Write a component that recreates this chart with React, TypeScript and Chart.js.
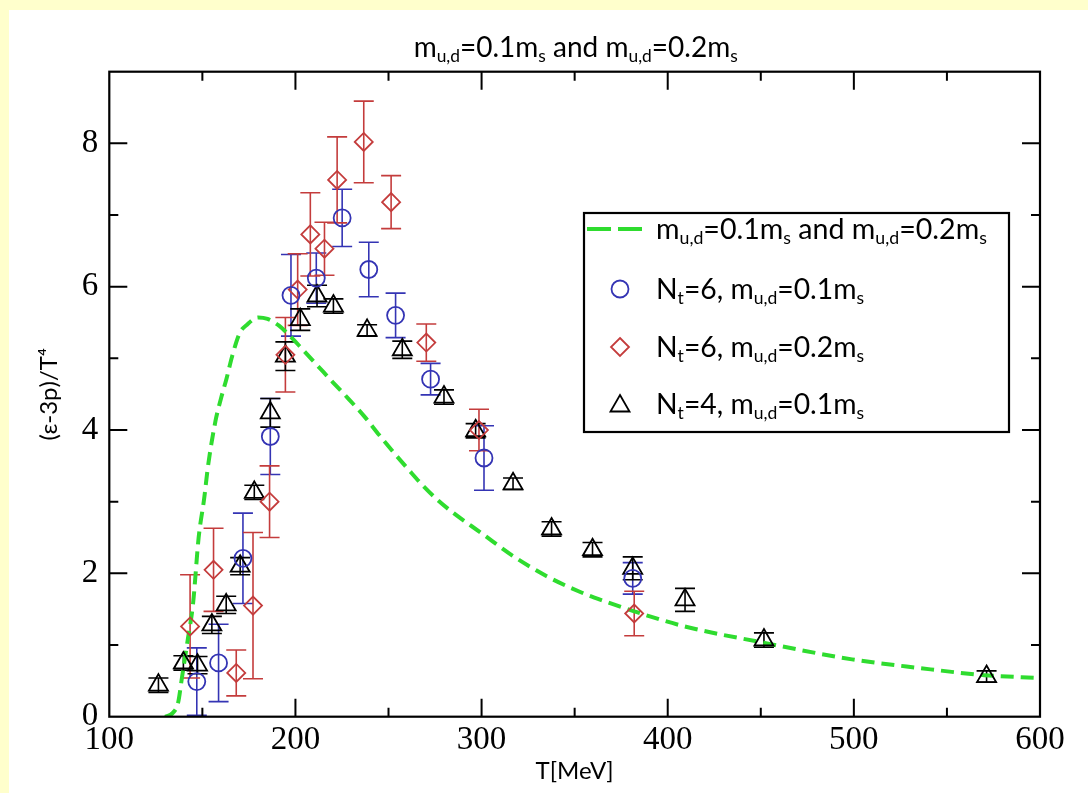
import React, { useEffect, useRef } from 'react';
import { Chart, registerables } from 'chart.js';

Chart.register(...registerables);

// ---- data ----
const CURVE_T = [130, 134, 137, 139, 142, 145, 148, 151, 153, 157, 160, 163, 166, 170, 174, 180, 185, 191, 196, 202.6, 210, 215, 220, 228, 237, 245, 253, 261, 269, 277, 285, 300, 317, 335, 353, 364, 382, 409, 452, 499, 535, 570, 600];
const CURVE_V = [0.0, 0.05, 0.2, 0.54, 1.05, 1.58, 2.5, 3.05, 3.49, 4.12, 4.44, 4.72, 5.03, 5.35, 5.47, 5.57, 5.55, 5.46, 5.34, 5.16, 4.95, 4.81, 4.67, 4.45, 4.19, 3.93, 3.68, 3.44, 3.21, 3.01, 2.84, 2.56, 2.24, 1.96, 1.74, 1.63, 1.47, 1.26, 1.03, 0.8, 0.68, 0.58, 0.54];

const BLUE_T = [147, 158.7, 171.8, 186.5, 197.6, 211.2, 225.1, 239.4, 253.8, 272.6, 301.3, 381.2];
const BLUE_V = [0.49, 0.75, 2.21, 3.91, 5.88, 6.12, 6.96, 6.24, 5.6, 4.71, 3.61, 1.93];
const BLUE_E = [0.47, 0.54, 0.63, 0.53, 0.57, 0.35, 0.4, 0.38, 0.31, 0.22, 0.45, 0.22];

const RED_T = [143.4, 156, 168.2, 177.2, 186.1, 194.6, 201.2, 208, 215.6, 222.4, 236.7, 251.4, 270.3, 298.6, 382];
const RED_V = [1.26, 2.05, 0.61, 1.55, 3.0, 5.05, 5.96, 6.73, 6.53, 7.49, 8.02, 7.18, 5.22, 4.0, 1.44];
const RED_E = [0.72, 0.58, 0.32, 1.02, 0.5, 0.52, 0.5, 0.58, 0.37, 0.6, 0.57, 0.37, 0.26, 0.29, 0.31];

const BLACK_T = [126.4, 139.8, 147.4, 155.1, 162.8, 170.3, 177.9, 186.5, 194.6, 202.6, 211.6, 220.4, 238.5, 257.4, 279.8, 296.8, 316.9, 337.6, 359.6, 381.2, 409.3, 451.7, 571.3];
const BLACK_V = [0.44, 0.75, 0.72, 1.28, 1.56, 2.1, 3.13, 4.24, 5.03, 5.54, 5.87, 5.73, 5.39, 5.12, 4.46, 3.99, 3.25, 2.62, 2.33, 2.07, 1.63, 1.07, 0.56];
const BLACK_E = [0.1, 0.1, 0.12, 0.12, 0.12, 0.12, 0.1, 0.2, 0.2, 0.15, 0.15, 0.1, 0.08, 0.12, 0.1, 0.1, 0.08, 0.1, 0.1, 0.16, 0.16, 0.1, 0.08];

const X_MIN = 100, X_MAX = 600, X_STEP = 50, X_LABEL_EVERY = 100;
const Y_MIN = 0, Y_MAX = 9, Y_STEP = 1, Y_LABEL_EVERY = 2;

type Part = [string, string];
const TITLE_PARTS: Part[] = [['m', ''], ['u,d', 'sub'], ['=0.1m', ''], ['s', 'sub'], [' and m', ''], ['u,d', 'sub'], ['=0.2m', ''], ['s', 'sub']];
const LEGEND_CURVE: Part[] = [['m', ''], ['u,d', 'sub'], ['=0.1m', ''], ['s', 'sub'], [' and m', ''], ['u,d', 'sub'], ['=0.2m', ''], ['s', 'sub']];
const LEGEND_BLUE: Part[] = [['N', ''], ['t', 'sub'], ['=6, m', ''], ['u,d', 'sub'], ['=0.1m', ''], ['s', 'sub']];
const LEGEND_RED: Part[] = [['N', ''], ['t', 'sub'], ['=6, m', ''], ['u,d', 'sub'], ['=0.2m', ''], ['s', 'sub']];
const LEGEND_BLACK: Part[] = [['N', ''], ['t', 'sub'], ['=4, m', ''], ['u,d', 'sub'], ['=0.1m', ''], ['s', 'sub']];
const X_TITLE = 'T[MeV]';
const Y_TITLE = '(ε-3p)/T⁴';

const GREEN = '#2fdc2f';
const BLUE = '#3434b4';
const RED = '#c43c3c';
const BLACK = '#000000';
const SANS = 'Lato, "Open Sans", sans-serif';
const SERIF = '"Liberation Serif", "DejaVu Serif", serif';

function richWidth(ctx: CanvasRenderingContext2D, parts: Part[], size: number) {
  let w = 0;
  for (const [t, k] of parts) {
    ctx.font = `${k ? size * 0.62 : size}px ${SANS}`;
    w += ctx.measureText(t).width;
  }
  return w;
}

function drawRich(ctx: CanvasRenderingContext2D, parts: Part[], x: number, yCenter: number, size: number, align: string) {
  const w = richWidth(ctx, parts, size);
  let cx = align === 'center' ? x - w / 2 : x;
  const base = yCenter + size * 0.34;
  ctx.fillStyle = '#000';
  ctx.textBaseline = 'alphabetic';
  ctx.textAlign = 'left';
  for (const [t, k] of parts) {
    const s = k ? size * 0.62 : size;
    ctx.font = `${s}px ${SANS}`;
    ctx.fillText(t, cx, k === 'sub' ? base + size * 0.2 : base);
    cx += ctx.measureText(t).width;
  }
}

function marker(ctx: CanvasRenderingContext2D, style: string, x: number, y: number, r: number, color: string) {
  ctx.save();
  ctx.strokeStyle = color;
  ctx.lineWidth = 1.8;
  ctx.beginPath();
  if (style === 'circle') {
    ctx.arc(x, y, r, 0, Math.PI * 2);
  } else if (style === 'rectRot') {
    ctx.moveTo(x, y - r); ctx.lineTo(x + r, y); ctx.lineTo(x, y + r); ctx.lineTo(x - r, y); ctx.closePath();
  } else {
    const a = Math.PI * 2 / 3;
    for (let i = 0; i < 3; i++) {
      const px = x + Math.sin(i * a) * r, py = y - Math.cos(i * a) * r;
      if (i === 0) ctx.moveTo(px, py); else ctx.lineTo(px, py);
    }
    ctx.closePath();
  }
  ctx.stroke();
  ctx.restore();
}

const overlay = {
  id: 'overlay',
  beforeDatasetsDraw(chart: any) {
    const { ctx, chartArea: a, scales } = chart;
    ctx.save();
    ctx.beginPath();
    ctx.rect(a.left, a.top, a.right - a.left, a.bottom - a.top);
    ctx.clip();
    chart.data.datasets.forEach((ds: any) => {
      if (!ds.errors) return;
      ctx.strokeStyle = ds.borderColor;
      ctx.lineWidth = 1.6;
      ds.data.forEach((p: any, i: number) => {
        const e = ds.errors[i];
        const x = scales.x.getPixelForValue(p.x);
        const y1 = scales.y.getPixelForValue(p.y + e);
        const y2 = scales.y.getPixelForValue(p.y - e);
        ctx.beginPath();
        ctx.moveTo(x, y1); ctx.lineTo(x, y2);
        ctx.moveTo(x - 10, y1); ctx.lineTo(x + 10, y1);
        ctx.moveTo(x - 10, y2); ctx.lineTo(x + 10, y2);
        ctx.stroke();
      });
    });
    ctx.restore();
  },
  afterDraw(chart: any) {
    const { ctx, chartArea: a, scales } = chart;
    ctx.save();
    // ticks (inward, mirrored)
    ctx.strokeStyle = '#000';
    ctx.lineWidth = 2;
    ctx.beginPath();
    scales.x.ticks.forEach((t: any) => {
      if (t.value <= X_MIN || t.value >= X_MAX) return;
      const x = scales.x.getPixelForValue(t.value);
      const L = t.value % X_LABEL_EVERY === 0 ? 18 : 9;
      ctx.moveTo(x, a.bottom); ctx.lineTo(x, a.bottom - L);
      ctx.moveTo(x, a.top); ctx.lineTo(x, a.top + L);
    });
    scales.y.ticks.forEach((t: any) => {
      if (t.value <= Y_MIN || t.value >= Y_MAX) return;
      const y = scales.y.getPixelForValue(t.value);
      const L = t.value % Y_LABEL_EVERY === 0 ? 18 : 9;
      ctx.moveTo(a.left, y); ctx.lineTo(a.left + L, y);
      ctx.moveTo(a.right, y); ctx.lineTo(a.right - L, y);
    });
    ctx.stroke();
    ctx.lineWidth = 2.2;
    ctx.strokeRect(a.left, a.top, a.right - a.left, a.bottom - a.top);

    // title
    drawRich(ctx, TITLE_PARTS, (a.left + a.right) / 2 + 1, 37, 28, 'center');

    // legend
    const bx = 575, by = 203, bw = 425, bh = 219;
    ctx.fillStyle = '#fff';
    ctx.fillRect(bx, by, bw, bh);
    ctx.lineWidth = 2.2;
    ctx.strokeStyle = '#000';
    ctx.strokeRect(bx, by, bw, bh);
    const tx = 647;
    const rows = [219, 279, 337, 394];
    ctx.save();
    ctx.strokeStyle = GREEN;
    ctx.lineWidth = 4;
    ctx.setLineDash([24, 7]);
    ctx.beginPath();
    ctx.moveTo(578, rows[0]); ctx.lineTo(634, rows[0]);
    ctx.stroke();
    ctx.restore();
    marker(ctx, 'circle', 611, rows[1], 8.5, BLUE);
    marker(ctx, 'rectRot', 611, rows[2], 9, RED);
    marker(ctx, 'triangle', 611, rows[3] + 2, 11, BLACK);
    drawRich(ctx, LEGEND_CURVE, tx, rows[0], 28.6, 'left');
    drawRich(ctx, LEGEND_BLUE, tx, rows[1], 28.3, 'left');
    drawRich(ctx, LEGEND_RED, tx, rows[2], 28.3, 'left');
    drawRich(ctx, LEGEND_BLACK, tx, rows[3], 28.3, 'left');
    ctx.restore();
  },
};

function pts(xs: number[], ys: number[]) {
  return xs.map((x, i) => ({ x, y: ys[i] }));
}

export default function App() {
  const ref = useRef<HTMLCanvasElement>(null);
  useEffect(() => {
    const chart = new Chart(ref.current as HTMLCanvasElement, {
      type: 'scatter',
      data: {
        datasets: [
          {
            label: 'Nt=6, mu,d=0.1ms', data: pts(BLUE_T, BLUE_V), errors: BLUE_E,
            pointStyle: 'circle', pointRadius: 8.5, borderColor: BLUE, pointBorderColor: BLUE,
            pointBackgroundColor: 'rgba(0,0,0,0)', pointBorderWidth: 1.8, showLine: false,
          } as any,
          {
            label: 'Nt=6, mu,d=0.2ms', data: pts(RED_T, RED_V), errors: RED_E,
            pointStyle: 'rectRot', pointRadius: 9, borderColor: RED, pointBorderColor: RED,
            pointBackgroundColor: 'rgba(0,0,0,0)', pointBorderWidth: 1.8, showLine: false,
          } as any,
          {
            label: 'Nt=4, mu,d=0.1ms', data: pts(BLACK_T, BLACK_V), errors: BLACK_E,
            pointStyle: 'triangle', pointRadius: 11, borderColor: BLACK, pointBorderColor: BLACK,
            pointBackgroundColor: 'rgba(0,0,0,0)', pointBorderWidth: 1.8, showLine: false,
          } as any,
          {
            label: 'mu,d=0.1ms and mu,d=0.2ms', data: pts(CURVE_T, CURVE_V),
            showLine: true, borderColor: GREEN, borderWidth: 4, borderDash: [13, 7],
            pointRadius: 0, cubicInterpolationMode: 'monotone', fill: false,
          } as any,
        ],
      },
      options: {
        responsive: false,
        animation: false,
        events: [],
        layout: { padding: { top: 61.7, right: 48, left: 0, bottom: 0 } },
        plugins: { legend: { display: false }, title: { display: false }, tooltip: { enabled: false } },
        scales: {
          x: {
            type: 'linear', min: X_MIN, max: X_MAX,
            grid: { display: false, drawTicks: false },
            border: { display: false },
            ticks: {
              stepSize: X_STEP, autoSkip: false, maxRotation: 0, padding: 4, color: '#000',
              font: { family: SERIF, size: 33 },
              callback: (v: any) => (Number(v) % X_LABEL_EVERY === 0 ? String(v) : ''),
            },
            title: { display: true, text: X_TITLE, color: '#000', font: { family: SANS, size: 24 }, padding: { top: 0, bottom: 7 } },
            afterFit: (s: any) => { s.height = 76.3; },
          },
          y: {
            type: 'linear', min: Y_MIN, max: Y_MAX,
            grid: { display: false, drawTicks: false },
            border: { display: false },
            ticks: {
              stepSize: Y_STEP, autoSkip: false, padding: 11, color: '#000',
              font: { family: SERIF, size: 33 },
              callback: (v: any) => (Number(v) % Y_LABEL_EVERY === 0 ? String(v) : ''),
            },
            title: { display: true, text: Y_TITLE, color: '#000', font: { family: SANS, size: 24 }, padding: { top: 26, bottom: 0 } },
            afterFit: (s: any) => { s.width = 100.3; },
          },
        },
      } as any,
      plugins: [overlay],
    });
    return () => chart.destroy();
  }, []);
  return (
    <div style={{ position: 'absolute', left: 0, top: 0, width: 1088, height: 793, background: '#FFFFCC', overflow: 'hidden' }}>
      <div style={{ position: 'absolute', left: 9, top: 10, width: 1079, height: 783, background: '#ffffff' }}>
        <canvas ref={ref} width={1079} height={783} style={{ display: 'block' }} />
      </div>
    </div>
  );
}
